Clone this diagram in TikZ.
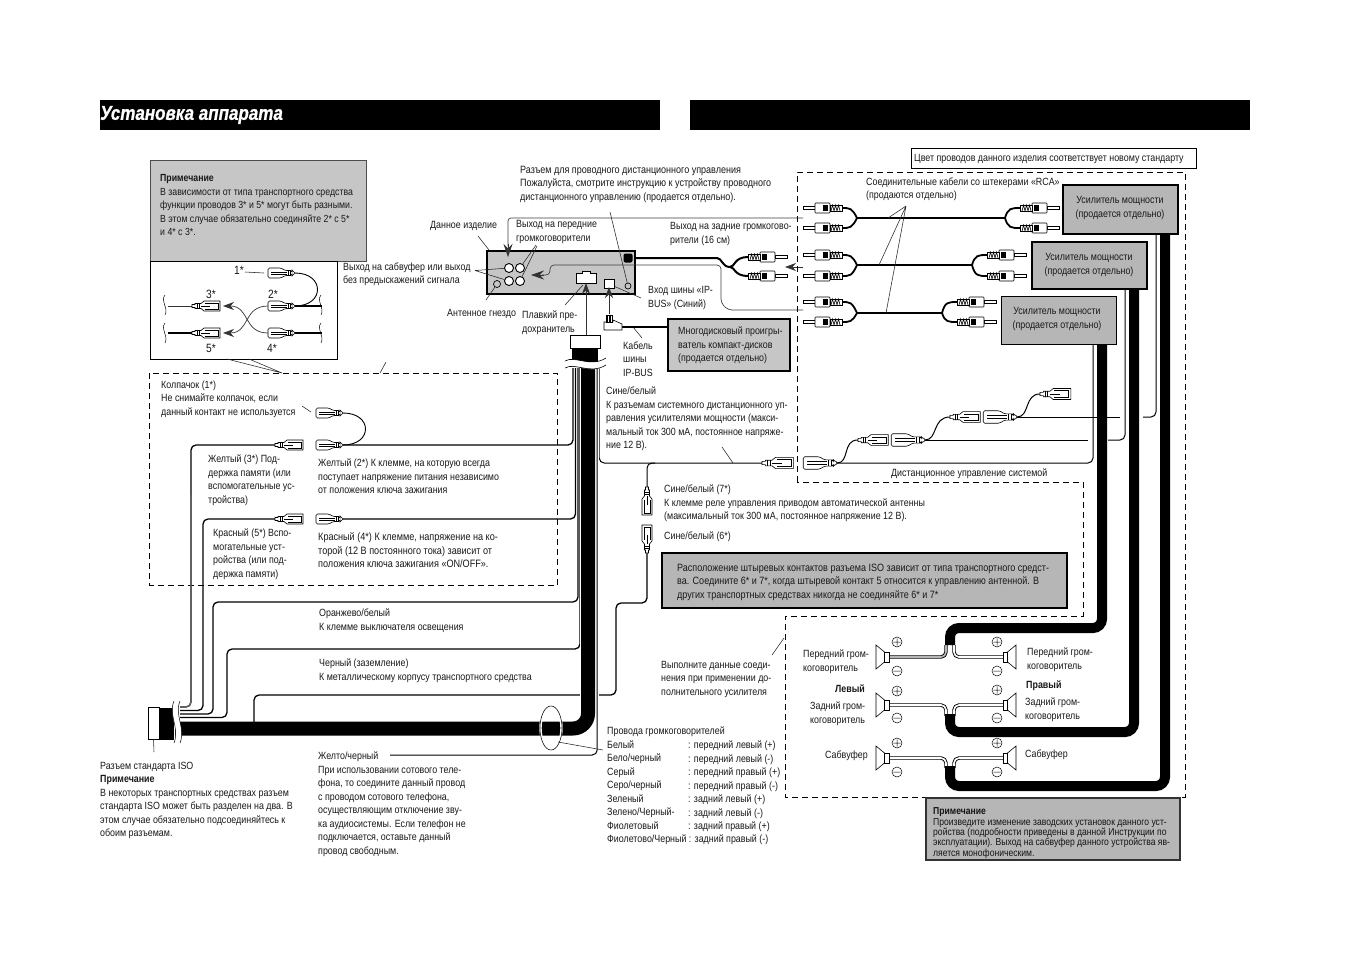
\documentclass[tikz,border=0pt]{standalone}
\usepackage{fontspec}
\setmainfont{Liberation Sans}[FakeStretch=0.85]
\usetikzlibrary{arrows.meta}
\definecolor{gA}{HTML}{C6C6C6}
\definecolor{gB}{HTML}{B6B6B6}
\definecolor{gC}{HTML}{666666}
\tikzset{
 x=1pt,y=-1pt,
 txt/.style={anchor=north west,inner sep=0pt,align=left,yshift=3.4pt,text=black!90,
   font=\fontsize{10.45}{13.5}\selectfont,execute at begin node=\strut},
 txc/.style={txt,anchor=north,align=center},
 txb/.style={txt,font=\fontsize{12}{13.5}\selectfont},
 txs/.style={anchor=north west,inner sep=0pt,align=left,yshift=2.4pt,text=black!92,
   font=\fontsize{10.1}{10.4}\selectfont,execute at begin node=\strut},
 hdr/.style={draw=none,fill=black,minimum width=560pt,minimum height=30pt,inner sep=0pt},
 wire/.style={line width=1.3pt,rounded corners=5pt},
 thinw/.style={line width=.8pt,black!80},
 thick/.style={line width=2pt,rounded corners=5pt},
 call/.style={line width=.55pt,black!85},
 arr/.style={line width=.7pt,black!80,-{Stealth[length=11pt,width=8pt]}},
 cable/.style={line width=10pt,rounded corners=9pt,black},
 dwire/.style={line width=.9pt,double=white,double distance=1.6pt,rounded corners=5pt},
 dashbox/.style={line width=.7pt,dash pattern=on 6pt off 4pt},
 conn/.style={draw=black,fill=white,line width=.6pt},
 fem/.pic={
   \path[conn] (0,-1.5)--(3,-1.5)--(3,-2.5)--(9,-2.5)--(12,-5)--(28,-5)--(28,5)--(12,5)--(9,2.5)--(3,2.5)--(3,1.5)--(0,1.5)--cycle;
   \draw[line width=.45pt] (5,-2.5)--(5,2.5) (7,-2.5)--(7,2.5) (13,-3)--(26,-3)--(26,3)--(13,3) (9,0)--(18,0);},
 male/.pic={
   \path[conn,rounded corners=1.5pt] (0,-1.5)--(-3,-1.5)--(-3,-2.5)--(-10,-2.5)--(-14,-5)--(-27,-5)--(-27,5)--(-14,5)--(-10,2.5)--(-3,2.5)--(-3,1.5)--(0,1.5)--cycle;
   \draw[line width=.45pt] (-24,-1.2)--(-8,-1.2) (-24,1.2)--(-8,1.2) (-5,-2.5)--(-5,2.5) (-7,-2.5)--(-7,2.5);},
 rca/.pic={
   \path[conn] (-39,-1.4) rectangle (-27,1.4);
   \path[conn,rounded corners=.8pt] (-27,-5) rectangle (-12,5);
   \fill (-19,-3) rectangle (-14,3);
   \path[conn] (-12,-3) rectangle (0,3);
   \draw[line width=.6pt] (-11,3)--(-9.5,-3)--(-8,3)--(-6.5,-3)--(-5,3)--(-3.5,-3)--(-2,3);},
 spk/.pic={
   \path[conn,line width=.6pt] (-4.5,-5)--(-13,-12)--(-13,12)--(-4.5,5)--cycle;
   \path[conn,line width=.6pt] (-4.5,-5) rectangle (0,5);},
 plusc/.pic={\draw[line width=.5pt] (0,0) circle (5pt) (-3.6,0)--(3.6,0) (0,-3.6)--(0,3.6);},
 minusc/.pic={\draw[line width=.5pt] (0,0) circle (5pt) (-3.6,0)--(3.6,0);},
 squig/.pic={\draw[line width=.5pt] (0,-10) .. controls (-5,-4) and (4,3) .. (0,10);},
}
\begin{document}
\begin{tikzpicture}
\useasboundingbox (0,0) rectangle (1350,954);
\fill[white] (0,0) rectangle (1350,954);

% header bars
\node[hdr] (h1) at (380,115) {};
\node[hdr] (h2) at (970,115) {};
\node[anchor=west,inner sep=0pt,text=white] (title) at (100,115) {\fontsize{20}{22}\selectfont\bfseries\itshape\addfontfeature{FakeBold=0.8}Установка аппарата};

% note 1 and inset
\node[draw=black!70,fill=gA,line width=.7pt,minimum width=216pt,minimum height=101pt,inner sep=0pt] (note1) at (258,210.5) {};
\node[draw=black,fill=white,line width=.7pt,minimum width=187pt,minimum height=98pt,inner sep=0pt] (inset) at (243.5,310) {};
\node[txt,font=\fontsize{10.3}{13.5}\selectfont] (n1t) at (160,178) {\textbf{Примечание}\\В зависимости от типа транспортного средства\\функции проводов 3* и 5* могут быть разными.\\В этом случае обязательно соединяйте 2* с 5*\\и 4* с 3*.};

% inset connectors
\draw[line width=.9pt] (295,273) .. controls (325,273) and (325,306) .. (295,306);
\draw[thick] (295,306)--(322,306);
\draw[thick] (295,333)--(322,333);
\draw[thinw] (168,306)--(192,306);
\draw[thick] (168,333)--(192,333);
\pic at (295,273) {male};
\pic at (295,306) {male};
\pic at (295,333) {male};
\pic at (192,306) {fem};
\pic at (192,333) {fem};
\draw[arr] (268,306) .. controls (243,306) and (250,333) .. (223,333);
\draw[arr] (268,333) .. controls (243,333) and (250,306) .. (223,306);
\foreach \p/\q in {165/305,165/333,321/305,321/333}{\pic at (\p,\q) {squig};}
\node[txb] (l1) at (234,268) {1*};
\node[txb] (l3) at (206,292) {3*};
\node[txb] (l2) at (268,292) {2*};
\node[txb] (l5) at (206,346) {5*};
\node[txb] (l4) at (267,346) {4*};
\draw[call] (245,272)--(264,273);
\draw[call] (227,359)--(282,373) (249,359)--(282,373);
\draw[call] (380,373)--(386,362);

% left dashed box
\draw[dashbox] (149.5,373) rectangle (557,585);
\node[txt] (t1) at (161,384) {Колпачок (1*)\\Не снимайте колпачок, если\\данный контакт не используется};
\draw[call] (302,406)--(311,412);

% thin wires of the harness
\draw[line width=.9pt] (343,413) .. controls (373,413) and (373,445) .. (343,445);
\draw[wire] (343,445)--(573,445)--(573,368);
\draw[wire] (343,519)--(575.5,519)--(575.5,368);
\draw[wire] (180,714)--(213,714)--(213,602)--(578,602)--(578,368);
\draw[wire] (180,717.5)--(227,717.5)--(227,649)--(580,649)--(580,368);
\draw[wire] (275,445)--(191,445)--(191,707)--(180,707);
\draw[wire,gC] (191,495)--(191,707)--(180,707);
\draw[wire] (275,519)--(203,519)--(203,710.5)--(180,710.5);
\draw[wire] (647,553)--(647,603)--(616,603)--(616,695)--(254,695)--(254,722);
\draw[wire,line width=1pt] (599.2,368)--(599.2,463)--(762,463);
\draw[wire,line width=1pt] (655,463)--(647,463)--(647,487);
\pic at (275,445) {fem};
\pic at (275,519) {fem};
\pic at (343,413) {male};
\pic at (343,445) {male};
\pic at (343,519) {male};
\pic[rotate=-90] at (647,487) {fem};
\pic[rotate=90] at (647,553) {fem};

% main bundle
\draw[white,line width=19pt] (589.5,368)--(589.5,700);
\draw[line width=14pt,rounded corners=15pt] (588,345)--(588,728.5)--(175,728.5);
\fill (572,347) rectangle (598,362);
\draw[wire,line width=1pt] (597.2,368)--(597.2,755)--(390,755);
% top plug and breaks
\draw[white,line width=7pt] (563,365) .. controls (575,358) and (590,372) .. (606,362);
\draw[line width=.6pt] (565,361) .. controls (575,355) and (590,368) .. (606,358)
   (565,368) .. controls (575,362) and (590,375) .. (606,365);
\node[draw=black,fill=white,line width=.8pt,minimum width=30pt,minimum height=13pt,inner sep=0pt] (top) at (585,341.5) {};
% ISO connector
\fill (159,708) rectangle (174,740);
\draw[white,line width=6pt] (177,702) .. controls (171,715) and (183,728) .. (177,745);
\draw[line width=.5pt] (174,701) .. controls (168,715) and (180,728) .. (174,743) (180,701) .. controls (174,715) and (186,728) .. (180,743);
\node[draw=black,fill=white,line width=.8pt,minimum width=11pt,minimum height=32pt,inner sep=0pt] (iso) at (153.5,723) {};
\draw[call] (iso.south)--(154,752);
% bundle ellipse
\draw[white,line width=2.4pt] (551,728) ellipse (10.5pt and 21.5pt);
\draw[line width=.55pt] (551,728) ellipse (11pt and 22pt);
\draw[call] (558,742)--(603,750);

% harness labels
\node[txt] (t2) at (208,458) {Желтый (3*) Под-\\держка памяти (или\\вспомогательные ус-\\тройства)};
\node[txt] (t3) at (318,462) {Желтый (2*) К клемме, на которую всегда\\поступает напряжение питания независимо\\от положения ключа зажигания};
\node[txt] (t4) at (213,532) {Красный (5*) Вспо-\\могательные уст-\\ройства (или под-\\держка памяти)};
\node[txt,font=\fontsize{10.7}{13.5}\selectfont] (t5) at (318,536) {Красный (4*) К клемме, напряжение на ко-\\торой (12 В постоянного тока) зависит от\\положения ключа зажигания «ON/OFF».};
\node[txt] (t6) at (319,612) {Оранжево/белый\\К клемме выключателя освещения};
\node[txt] (t7) at (319,662) {Черный (заземление)\\К металлическому корпусу транспортного средства};
\node[txt] (t8) at (100,765) {Разъем стандарта ISO\\\textbf{Примечание}\\В некоторых транспортных средствах разъем\\стандарта ISO может быть разделен на два. В\\этом случае обязательно подсоединяйтесь к\\обоим разъемам.};
\node[txt] (t9) at (318,755) {Желто/черный\\При использовании сотового теле-\\фона, то соедините данный провод\\с проводом сотового телефона,\\осуществляющим отключение зву-\\ка аудиосистемы. Если телефон не\\подключается, оставьте данный\\провод свободным.};
\node[txt] (t10) at (607,730) {Провода громкоговорителей\\Белый\\Бело/черный\\Серый\\Серо/черный\\Зеленый\\Зелено/Черный-\\Фиолетовый\\Фиолетово/Черный : задний правый (-)};
\node[txt] (t11) at (688,744) {: передний левый (+)\\: передний левый (-)\\: передний правый (+)\\: передний правый (-)\\: задний левый (+)\\: задний левый (-)\\: задний правый (+)};

% head unit
\node[draw=black,fill=gA,line width=1.5pt,minimum width=148pt,minimum height=43pt,inner sep=0pt] (unit) at (561,272.5) {};
\draw[line width=.7pt,black!75,rounded corners=3pt] (803,218)--(508,218)--(508,246);
\draw[arr,line width=.7pt,-{Stealth[length=13pt,width=9pt]}] (508,244)--(508,257);
\draw[line width=.7pt,black!75,rounded corners=4pt] (803,310)--(728,310)--(721,303)--(721,265)--(550,265)--(550,275)--(542,275);
\draw[arr,-{Stealth[length=13pt,width=9pt]}] (544,275)--(531,275);
\foreach \n/\p/\q in {c1/509/268,c2/520/268,c3/509/281,c4/520/281}{
  \node[circle,draw=black,fill=white,line width=.9pt,minimum size=9pt,inner sep=0pt] (\n) at (\p,\q) {};}
\node[circle,draw=black,fill=gA,line width=.7pt,minimum size=7pt,inner sep=0pt] (ant) at (497,284) {};
\node[circle,draw=black,fill=gA,line width=.7pt,minimum size=6pt,inner sep=0pt] (rem) at (628,286) {};
\node[fill=black,rounded corners=2pt,minimum size=9pt,inner sep=0pt] (blob) at (628,258) {};
\path[draw=black,fill=white,line width=.9pt] (576,273)--(582,273)--(582,271)--(590,271)--(590,273)--(596,273)--(596,283)--(576,283)--cycle;
\node[draw=black,fill=white,line width=.6pt,minimum width=10pt,minimum height=9pt,inner sep=0pt] (ipb) at (609,284) {};
\draw[arr] (586,335)--(586,283);
\draw[arr] (609,314)--(609,287);
\node[txt,font=\fontsize{10.6}{13.5}\selectfont] (t12) at (520,169) {Разъем для проводного дистанционного управления\\Пожалуйста, смотрите инструкцию к устройству проводного\\дистанционного управлению (продается отдельно).};
\draw[call] (610,212)--(rem);
\node[txt] (t13) at (430,222) {Данное изделие};
\draw[call] (478,236)--(489,250);
\node[txt] (t14) at (516,224) {Выход на передние\\громкоговорители};
\draw[call] (536,245)--(c2) (537,246)--(c4);
\node[txt] (t15) at (343,266) {Выход на сабвуфер или выход\\без предыскажений сигнала};
\draw[call] (475,270.5)--(c1) (475,270.5)--(c3);
\node[txt] (t16) at (447,310) {Антенное гнездо};
\draw[call] (486,300)--(ant);
\node[txt] (t17) at (522,314) {Плавкий пре-\\дохранитель};
\draw[call] (565,305)--(583,285);
\node[txt] (t18) at (648,290) {Вход шины «IP-\\BUS» (Синий)};
\draw[call] (ipb)--(641,298);
\node[txt] (t19) at (670,226) {Выход на задние громкогово-\\рители (16 см)};
\node[txt] (t20) at (623,345) {Кабель\\шины\\IP-BUS};
\draw[call] (633,327)--(642,338);
% ip-bus plug
\node[draw=black,fill=gA,line width=2pt,minimum width=122pt,minimum height=52pt,inner sep=0pt] (disc) at (729,345) {};
\draw[line width=1.5pt] (622,327)--(disc.west |- 0,327);
\path[conn] (604,322)--(604,330)--(622,330)--(622,324)--(613,320)--(613,322)--cycle;
\path[conn] (606,315) rectangle (612,322);
\draw[line width=.5pt] (607.5,315)--(607.5,322) (609,315)--(609,322) (610.5,315)--(610.5,322);
\node[txt] (t21) at (678,330) {Многодисковый проигры-\\ватель компакт-дисков\\(продается отдельно)};
\draw[thick] (635,258)--(712,258) .. controls (722,258) and (722,267) .. (730,267);
\draw[line width=2pt] (730,267) .. controls (735,267) and (734,257) .. (748,257);
\draw[line width=2pt] (730,267) .. controls (735,267) and (734,276) .. (748,276);
\pic[xscale=-1] at (748,257) {rca};
\pic[xscale=-1] at (748,276) {rca};
\draw[line width=.7pt,black!80,-{Stealth[length=11pt,width=8pt]}] (803,267)--(785,267);

% right dashed outline
\draw[dashbox] (797,482)--(797,172)--(1185,172)--(1185,797)--(785,797)--(785,616)--(1083,616)--(1083,482)--cycle;
\node[draw=black,line width=.7pt,fill=white,minimum width=285pt,minimum height=20pt,inner sep=0pt] (std) at (1053.5,158) {};
\node[txt] (t22) at (914,155) {Цвет проводов данного изделия соответствует новому стандарту};

% RCA cables
\foreach \yw/\xe/\ya/\yb in {218/1005/208/228,265/972/255/276,313/942/302/322}{
  \draw[line width=1.8pt] (857,\yw) .. controls (852,\ya) and (850,\ya) .. (842,\ya);
  \draw[line width=1.8pt] (857,\yw) .. controls (852,\yb) and (850,\yb) .. (842,\yb);
  \draw[line width=1.8pt] (857,\yw)--(\xe,\yw);
  \draw[line width=1.8pt] (\xe,\yw) .. controls (\xe+3,\ya) and (\xe+6,\ya) .. (\xe+15,\ya);
  \draw[line width=1.8pt] (\xe,\yw) .. controls (\xe+3,\yb) and (\xe+6,\yb) .. (\xe+15,\yb);
  \pic at (842,\ya) {rca};
  \pic at (842,\yb) {rca};
  \pic[xscale=-1] at (\xe+15,\ya) {rca};
  \pic[xscale=-1] at (\xe+15,\yb) {rca};
}
\node[txt] (t23) at (866,181) {Соединительные кабели со штекерами «RCA»\\(продаются отдельно)};
\draw[call] (906,206)--(888,218) (906,206)--(879,265) (906,206)--(886,313);

% amplifiers
\node[draw=black,fill=gB,line width=1.2pt,minimum width=115pt,minimum height=49pt,inner sep=0pt] (amp1) at (1120.5,209.5) {};
\node[draw=black,fill=gB,line width=1.6pt,minimum width=115pt,minimum height=47pt,inner sep=0pt] (amp2) at (1089.5,265.5) {};
\node[draw=black,fill=gB,line width=.9pt,minimum width=115pt,minimum height=48pt,inner sep=0pt] (amp3) at (1058.5,320) {};
\node[txc] (a1) at (1120,200) {Усилитель мощности\\(продается отдельно)};
\node[txc] (a2) at (1089,257) {Усилитель мощности\\(продается отдельно)};
\node[txc] (a3) at (1057,311) {Усилитель мощности\\(продается отдельно)};

% remote wires
\draw[wire,line width=1pt] (amp3.south -| 1093,0)--(1093,463)--(837,463);
\draw[wire,line width=1pt] (amp2.south -| 1125,0)--(1125,440)--(1108,440);
\draw[wire,line width=1pt] (1088,440)--(925,440);
\draw[wire,line width=1pt] (amp1.south -| 1156,0)--(1156,417)--(1143,417);
\draw[wire,line width=1pt] (1120,417)--(1017,417);
\draw[line width=1pt] (837,463) .. controls (850,463) and (842,440) .. (858,440);
\draw[line width=1pt] (925,440) .. controls (938,440) and (932,417) .. (950,417);
\draw[line width=1pt] (1017,417) .. controls (1030,417) and (1024,394) .. (1040,394);
\pic[scale=1.12] at (762,463) {fem};
\pic[scale=1.25] at (837,463) {male};
\pic[scale=1.08] at (858,440) {fem};
\pic[scale=1.25] at (925,440) {male};
\pic[scale=1.08] at (950,417) {fem};
\pic[scale=1.25] at (1017,417) {male};
\pic[scale=1.1] at (1040,394) {fem};
\node[txt] (t24) at (891,470) {Дистанционное управление системой};
\draw[call] (722,447)--(733,463);
\node[txt] (t25) at (606,390) {Сине/белый\\К разъемам системного дистанционного уп-\\равления усилителями мощности (макси-\\мальный ток 300 мА, постоянное напряже-\\ние 12 В).};
\node[txt] (t26) at (664,488) {Сине/белый (7*)\\К клемме реле управления приводом автоматической антенны\\(максимальный ток 300 мА, постоянное напряжение 12 В).};
\node[txt] (t27) at (664,533) {Сине/белый (6*)};
\node[draw=black,fill=gB,line width=1.3pt,minimum width=405pt,minimum height=55pt,inner sep=0pt] (note2) at (864.5,580.5) {};
\node[txt,font=\fontsize{10.6}{13.5}\selectfont] (t28) at (677,567) {Расположение штыревых контактов разъема ISO зависит от типа транспортного средст-\\ва. Соедините 6* и 7*, когда штыревой контакт 5 относится к управлению антенной. В\\других транспортных средствах никогда не соединяйте 6* и 7*};
\node[txt] (t29) at (661,664) {Выполните данные соеди-\\нения при применении до-\\полнительного усилителя};
\draw[call] (772,655)--(784,638);

% speaker wires
\draw[dwire,double=gB] (889,657)--(946,657)--(946,645);
\draw[dwire] (1003,657)--(954,657)--(954,645);
\draw[dwire] (889,705)--(946,705)--(946,716);
\draw[dwire] (1003,705)--(954,705)--(954,716);
\draw[dwire] (889,758)--(946,758)--(946,768);
\draw[dwire] (1003,758)--(954,758)--(954,768);
% amplifier cables
\draw[cable] (amp3.south -| 1102,0)--(1102,628)--(950,628)--(950,645);
\draw[cable] (amp2.south -| 1134,0)--(1134,732)--(950,732)--(950,714);
\draw[cable] (amp1.south -| 1165,0)--(1165,786)--(950,786)--(950,766);
% speakers
\foreach \q in {657,705,758}{
  \pic at (889,\q) {spk};
  \pic[xscale=-1] at (1003,\q) {spk};
}
\foreach \q in {642,691,743}{\pic at (897,\q) {plusc};}
\foreach \q in {671,718,772}{\pic at (897,\q) {minusc};}
\foreach \q in {642,690,743}{\pic at (997,\q) {plusc};}
\foreach \q in {671,718,772}{\pic at (997,\q) {minusc};}
\node[txt] (s1) at (803,653) {Передний гром-\\коговоритель};
\node[txt] (s2) at (835,686) {\textbf{Левый}};
\node[txt] (s3) at (810,705) {Задний гром-\\коговоритель};
\node[txt] (s4) at (825,752) {Сабвуфер};
\node[txt] (s5) at (1027,651) {Передний гром-\\коговоритель};
\node[txt] (s6) at (1026,682) {\textbf{Правый}};
\node[txt] (s7) at (1025,701) {Задний гром-\\коговоритель};
\node[txt] (s8) at (1025,751) {Сабвуфер};
% bottom note
\node[draw=black!80,fill=gB,line width=1.3pt,minimum width=254pt,minimum height=62pt,inner sep=0pt] (note3) at (1053,829) {};
\node[txs] (t30) at (933,810) {\textbf{Примечание}\\Произведите изменение заводских установок данного уст-\\ройства (подробности приведены в данной Инструкции по\\эксплуатации). Выход на сабвуфер данного устройства яв-\\ляется монофоническим.};
\end{tikzpicture}
\end{document}
